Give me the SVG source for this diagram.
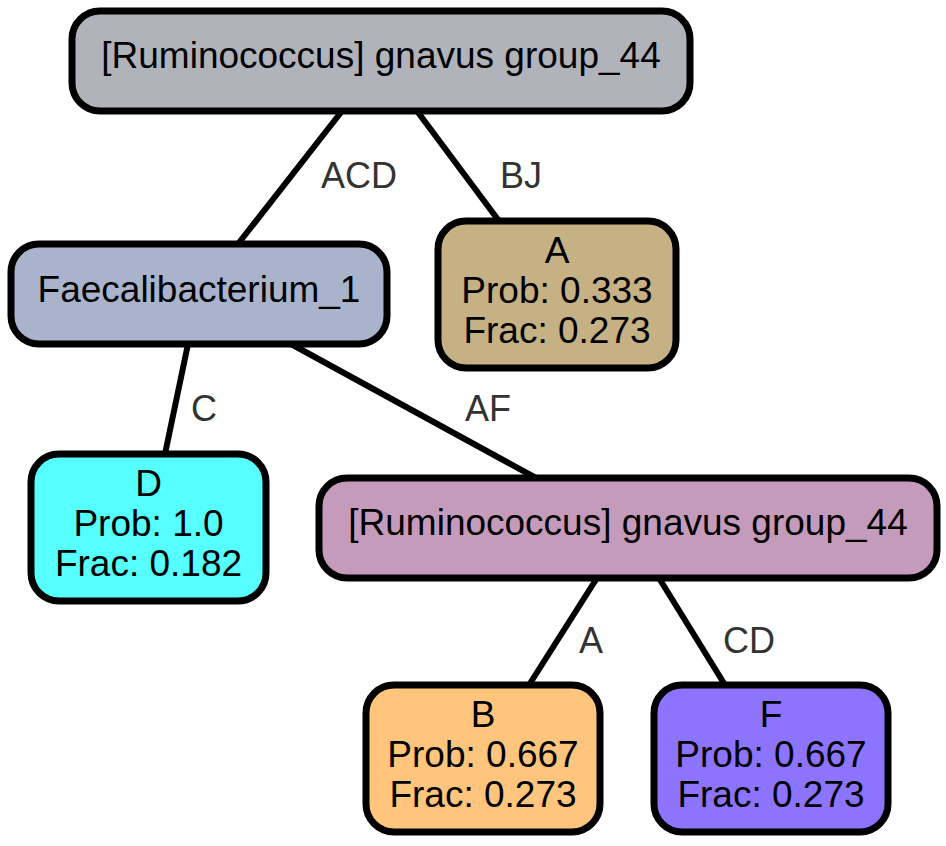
<svg xmlns="http://www.w3.org/2000/svg" width="946" height="846" viewBox="0 0 946 846">
<style>
.n rect{stroke:#000;stroke-width:7}
.n text{font-family:"Liberation Sans",Arial,Helvetica,sans-serif;font-size:37px;fill:#000;text-anchor:middle}
#edges line{stroke:#000;stroke-width:6}
#edges text{font-family:"Liberation Sans",Arial,Helvetica,sans-serif;font-size:36px;fill:#333;text-anchor:middle}
</style>
<rect width="946" height="846" fill="#fff"/>
<g id="edges">
<line x1="342" y1="111" x2="238" y2="244"/>
<line x1="417" y1="111" x2="499" y2="221"/>
<line x1="188" y1="344" x2="165" y2="454"/>
<line x1="291" y1="344" x2="536" y2="478"/>
<line x1="597" y1="578" x2="529" y2="685"/>
<line x1="659" y1="578" x2="725" y2="685"/>
<text x="359" y="188">ACD</text>
<text x="521" y="188">BJ</text>
<text x="204" y="421">C</text>
<text x="488" y="421">AF</text>
<text x="591" y="653">A</text>
<text x="749" y="653">CD</text>
</g>
<g id="root" class="n">
<rect x="72" y="11" width="618" height="100" rx="28" fill="#b0b3ba"/>
<text x="381" y="68">[Ruminococcus] gnavus group_44</text>
</g>
<g id="faecal" class="n">
<rect x="11" y="244" width="376" height="100" rx="28" fill="#a9b3cc"/>
<text x="199" y="302">Faecalibacterium_1</text>
</g>
<g id="leafA" class="n">
<rect x="438" y="221" width="238" height="147" rx="28" fill="#c5b184"/>
<text x="557" y="263">A</text>
<text x="557" y="303">Prob: 0.333</text>
<text x="557" y="343">Frac: 0.273</text>
</g>
<g id="leafD" class="n">
<rect x="31" y="454" width="235" height="147" rx="28" fill="#56fefe"/>
<text x="148.5" y="496">D</text>
<text x="148.5" y="536">Prob: 1.0</text>
<text x="148.5" y="576">Frac: 0.182</text>
</g>
<g id="gnavus2" class="n">
<rect x="319" y="478" width="618" height="100" rx="28" fill="#c59bbc"/>
<text x="628" y="535">[Ruminococcus] gnavus group_44</text>
</g>
<g id="leafB" class="n">
<rect x="366" y="685" width="234" height="147" rx="28" fill="#ffc57d"/>
<text x="483" y="727">B</text>
<text x="483" y="767">Prob: 0.667</text>
<text x="483" y="807">Frac: 0.273</text>
</g>
<g id="leafF" class="n">
<rect x="654" y="685" width="234" height="147" rx="28" fill="#8d74fe"/>
<text x="771" y="727">F</text>
<text x="771" y="767">Prob: 0.667</text>
<text x="771" y="807">Frac: 0.273</text>
</g>
</svg>
